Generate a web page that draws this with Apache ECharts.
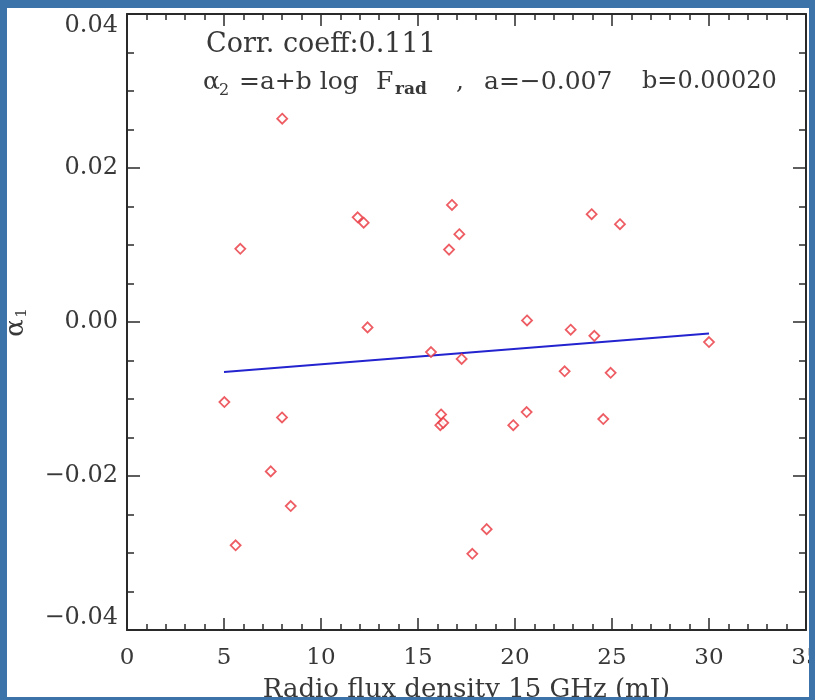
<!DOCTYPE html>
<html>
<head>
<meta charset="utf-8">
<script src="https://cdn.jsdelivr.net/npm/echarts@6/dist/echarts.min.js"></script>
<style>
  html, body { margin: 0; padding: 0; background: #3c73a9; width: 815px; height: 700px; overflow: hidden; }
  #chart { position: absolute; left: 7px; top: 8px; width: 802px; height: 689px; background: #ffffff; }
</style>
</head>
<body>
<div id="chart"></div>
<script>
// ---- data ----
const fluxValues = [8.0, 5.84, 11.89, 12.2, 16.75, 17.13, 16.6, 12.4, 15.67, 17.25,
  23.95, 25.41, 20.62, 22.87, 24.09, 30.0, 5.02, 7.99, 16.19, 16.15, 16.3,
  7.41, 8.44, 5.6, 22.56, 24.93, 19.91, 20.6, 24.55, 18.54, 17.8];
const alphaValues = [0.0264, 0.0095, 0.0136, 0.0129, 0.0152, 0.0114, 0.0094, -0.0007, -0.0039, -0.0048,
  0.0140, 0.0127, 0.0002, -0.0010, -0.0018, -0.0026, -0.0104, -0.0124, -0.0120, -0.0134, -0.0131,
  -0.0194, -0.0239, -0.0290, -0.0064, -0.0066, -0.0134, -0.0117, -0.0126, -0.0269, -0.0301];
const fitX = [5, 30];
const fitY = [-0.0065, -0.0015];
const xTickLabels = ['0', '5', '10', '15', '20', '25', '30', '35'];
const yTickLabels = ['\u22120.04', '\u22120.02', '0.00', '0.02', '0.04'];
const xAxisTitle = 'Radio flux density 15 GHz (mJ)';
const corrText = 'Corr. coeff:0.111';

const scatterData = fluxValues.map((v, i) => [v, alphaValues[i]]);
const fitData = fitX.map((v, i) => [v, fitY[i]]);

const FONT = 'DejaVu Serif';
const AX = '#2a2a2a';
const TXT = '#383838';

function yLab(v) {
  const idx = Math.round((v + 0.04) / 0.02);
  return yTickLabels[idx] !== undefined ? yTickLabels[idx] : '';
}
function xLab(v) {
  const idx = Math.round(v / 5);
  return xTickLabels[idx] !== undefined ? xTickLabels[idx] : '';
}

const baseX = {
  type: 'value', min: 0, max: 35, interval: 5,
  axisLine: { show: true, onZero: false, lineStyle: { color: AX, width: 2 } },
  axisTick: { show: true, inside: true, length: 12, lineStyle: { color: AX, width: 1.5 } },
  minorTick: { show: true, splitNumber: 5, length: 6, lineStyle: { color: AX, width: 1.5 } },
  splitLine: { show: false }, minorSplitLine: { show: false }
};
const baseY = {
  type: 'value', min: -0.04, max: 0.04, interval: 0.02,
  axisLine: { show: true, onZero: false, lineStyle: { color: AX, width: 2 } },
  axisTick: { show: true, inside: true, length: 13, lineStyle: { color: AX, width: 1.5 } },
  minorTick: { show: true, splitNumber: 4, length: 7, lineStyle: { color: AX, width: 1.5 } },
  splitLine: { show: false }, minorSplitLine: { show: false }
};

const chart = echarts.init(document.getElementById('chart'));
chart.setOption({
  animation: false,
  backgroundColor: '#ffffff',
  grid: { left: 120, right: 3, top: 6, bottom: 67, containLabel: false, outerBoundsMode: 'none' },
  xAxis: [
    Object.assign({}, baseX, {
      position: 'bottom',
      name: xAxisTitle, nameLocation: 'middle', nameGap: 47,
      nameTextStyle: { fontFamily: FONT, fontSize: 26, color: TXT },
      axisLabel: { show: true, margin: 17, fontFamily: FONT, fontSize: 23, color: TXT, formatter: xLab }
    }),
    Object.assign({}, baseX, { position: 'top', axisLabel: { show: false } })
  ],
  yAxis: [
    Object.assign({}, baseY, {
      position: 'left',
      axisLabel: {
        show: true, margin: 9, fontFamily: FONT, fontSize: 24, color: TXT, formatter: yLab,
        verticalAlignMinLabel: 'bottom', verticalAlignMaxLabel: 'top'
      }
    }),
    Object.assign({}, baseY, { position: 'right', axisLabel: { show: false } })
  ],
  graphic: [
    { type: 'text', left: 199, top: 23, style: { text: corrText, font: '27px "DejaVu Serif"', fill: TXT } },
    { type: 'text', x: 196, y: 62, style: { text: 'α', font: '25px "DejaVu Serif"', fill: TXT } },
    { type: 'text', x: 212, y: 75, style: { text: '2', font: '16px "DejaVu Serif"', fill: TXT } },
    { type: 'text', x: 232, y: 62, style: { text: '=a+b log', font: '25px "DejaVu Serif"', fill: TXT } },
    { type: 'text', x: 369, y: 62, style: { text: 'F', font: '25px "DejaVu Serif"', fill: TXT } },
    { type: 'text', x: 388, y: 73, style: { text: 'rad', font: 'bold 17px "DejaVu Serif"', fill: TXT } },
    { type: 'text', x: 449, y: 62, style: { text: ',', font: '25px "DejaVu Serif"', fill: TXT } },
    { type: 'text', x: 477, y: 62, style: { text: 'a=\u22120.007', font: '25px "DejaVu Serif"', fill: TXT } },
    { type: 'text', x: 635, y: 62, style: { text: 'b=0.00020', font: '24px "DejaVu Serif"', fill: TXT } },
    { type: 'text', x: 9, y: 320, rotation: Math.PI / 2,
      style: { text: 'α', font: '26px "DejaVu Serif"', fill: TXT, align: 'center', verticalAlign: 'middle' } },
    { type: 'text', x: 15, y: 305, rotation: Math.PI / 2,
      style: { text: '1', font: '15px "DejaVu Serif"', fill: TXT, align: 'center', verticalAlign: 'middle' } }
  ],
  series: [
    {
      type: 'line', data: fitData, xAxisIndex: 0, yAxisIndex: 0,
      showSymbol: false, symbol: 'none',
      lineStyle: { color: '#2323cf', width: 2 }, z: 2
    },
    {
      type: 'scatter', data: scatterData, xAxisIndex: 0, yAxisIndex: 0,
      symbol: 'diamond', symbolSize: 10,
      itemStyle: { color: '#ffffff', borderColor: '#e8343c', borderWidth: 1.8 }, z: 3
    }
  ]
});
</script>
</body>
</html>
